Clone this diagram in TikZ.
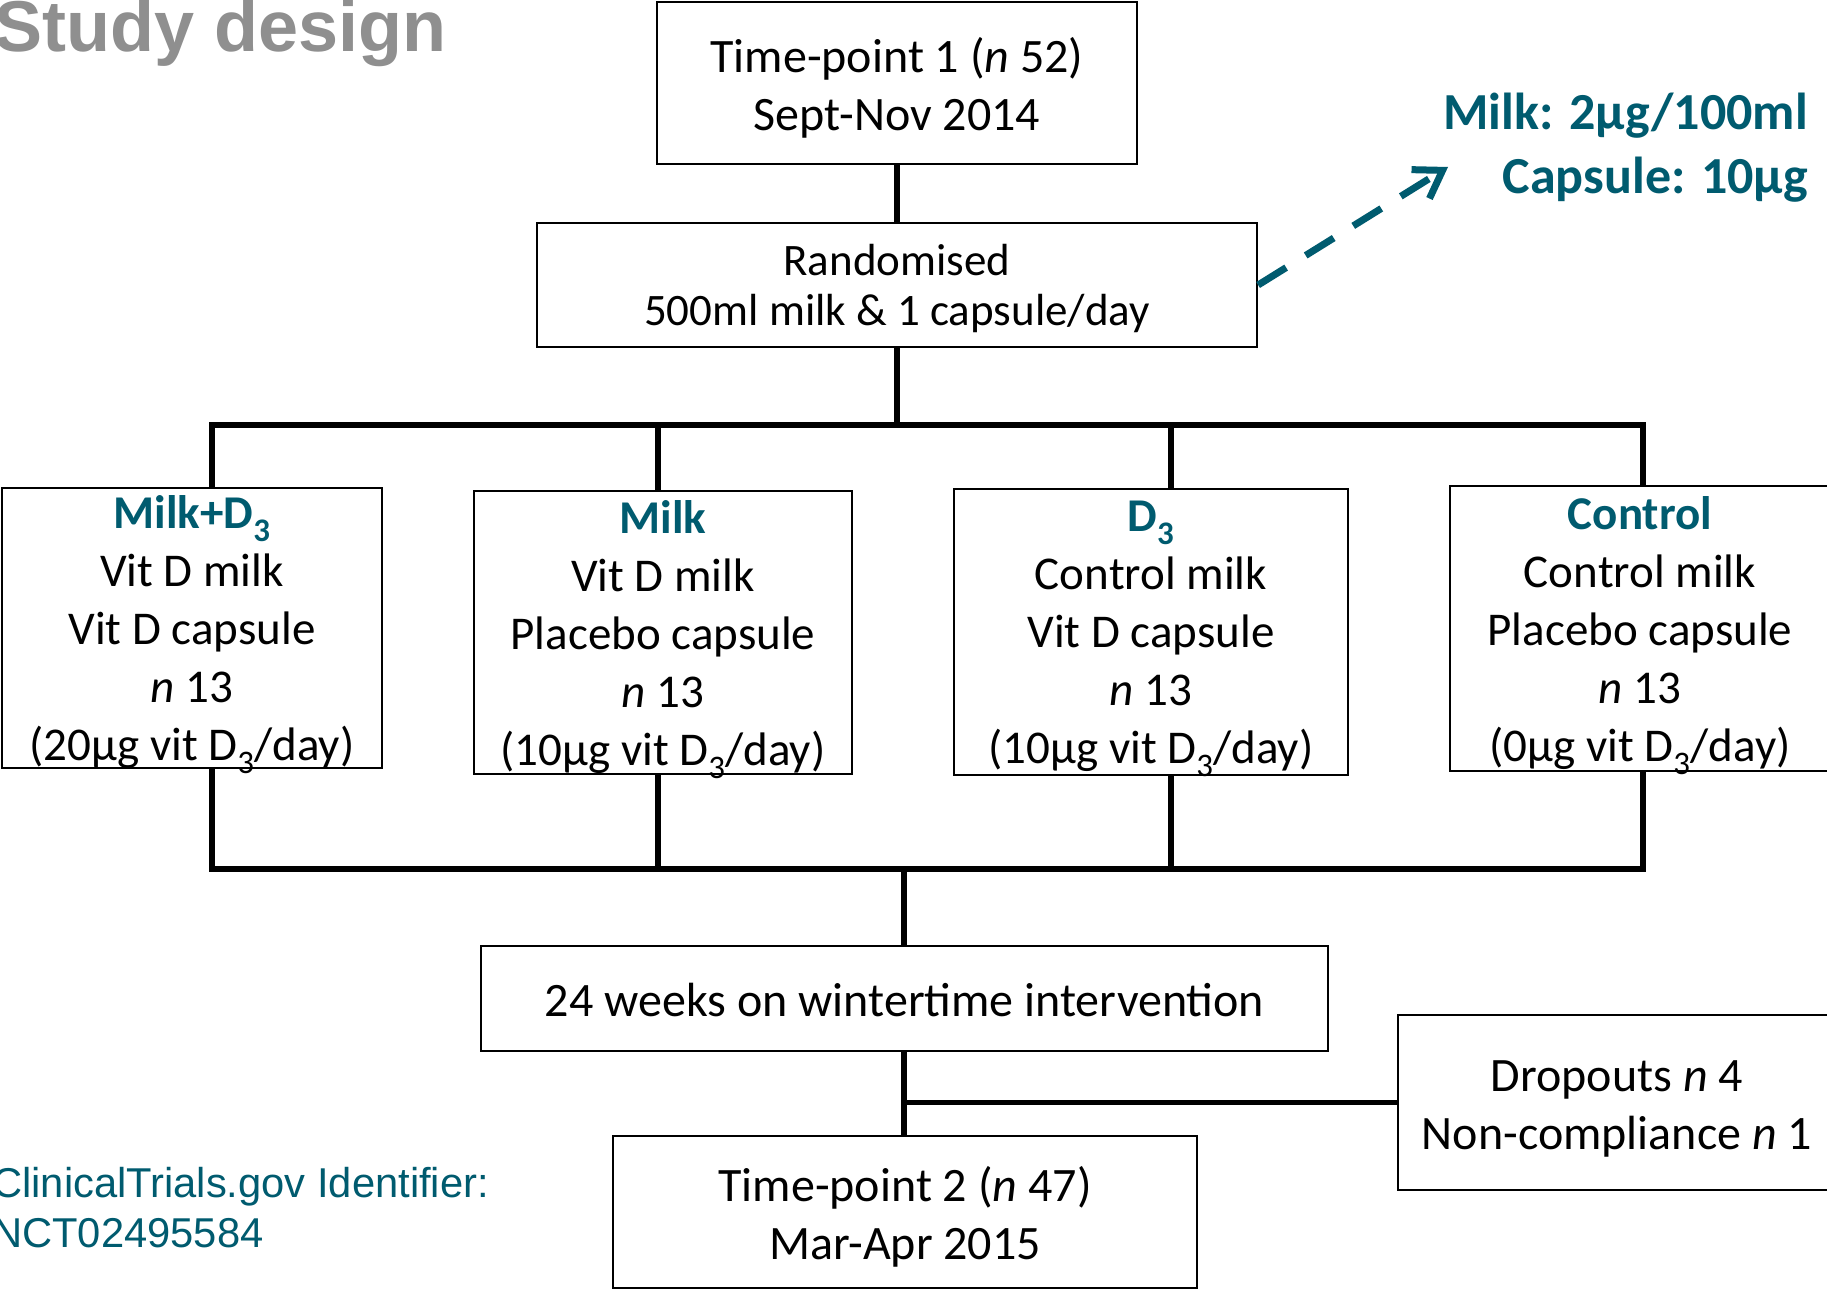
\documentclass[tikz,border=0pt]{standalone}
\usepackage{fontspec}
\setmainfont{Carlito}
\newfontfamily\arialfont{Liberation Sans}
\usetikzlibrary{arrows.meta}
\definecolor{teal1}{RGB}{0,91,111}
\definecolor{titlegray}{RGB}{143,143,143}
\begin{document}
\begin{tikzpicture}[x=1pt,y=-1pt,
  box/.style={draw=black, line width=2.2pt, inner sep=0pt, fill=white},
  tl/.style={inner sep=0pt, align=center},
  conn/.style={draw=black, line width=5.5pt, line cap=rect},
  bigtxt/.style={font=\fontsize{48}{58}\selectfont},
  randtxt/.style={font=\fontsize{45}{50}\selectfont},
  grptxt/.style={font=\fontsize{47}{58}\selectfont}]
\useasboundingbox (0,0) rectangle (1827,1289);
\fill[white] (0,0) rectangle (1827,1289);

% title and notes
\node[anchor=base west, inner sep=0pt, text=titlegray, font=\arialfont\bfseries\fontsize{72}{80}\selectfont] (title) at (-6,52) {Study design};
\node[anchor=west, inner sep=0pt, align=left, text=teal1, font=\arialfont\fontsize{41.7}{50}\selectfont] (ct) at (-8,1208) {ClinicalTrials.gov Identifier:\\NCT02495584};
\node[anchor=east, inner sep=0pt, align=right, text=teal1, font=\bfseries\fontsize{52}{64}\selectfont] (dose) at (1808,148) {Milk: 2µg/100ml\\Capsule: 10µg};

% connector coordinates
\coordinate (s1) at (212,425);
\coordinate (s2) at (658,425);
\coordinate (s3) at (1171,425);
\coordinate (s4) at (1643,425);
\coordinate (b1) at (212,869);
\coordinate (b2) at (658,869);
\coordinate (b3) at (1171,869);
\coordinate (b4) at (1643,869);
\coordinate (bc) at (904,869);
\coordinate (arrowtip) at (1448,167);

% boxes
\node[box, minimum width=480, minimum height=162,
  label={[tl, bigtxt, yshift=-5pt]center:{Time-point 1 (\textit{n} 52)\\Sept-Nov 2014}}] (tp1) at (897,83) {};
\node[box, minimum width=720, minimum height=124,
  label={[tl, randtxt, yshift=-3.5pt]center:{Randomised\\500ml milk \& 1 capsule/day}}] (rand) at (897,285) {};

\node[box, minimum width=380, minimum height=280,
  label={[tl, grptxt, yshift=-7pt]center:{\textcolor{teal1}{\bfseries Milk+D\textsubscript{3}}\\Vit D milk\\Vit D capsule\\\textit{n} 13\\(20µg vit D\textsubscript{3}/day)}}] (g1) at (192,628) {};
\node[box, minimum width=378, minimum height=283,
  label={[tl, grptxt, yshift=-7pt]center:{\textcolor{teal1}{\bfseries Milk}\\Vit D milk\\Placebo capsule\\\textit{n} 13\\(10µg vit D\textsubscript{3}/day)}}] (g2) at (663,632.5) {};
\node[box, minimum width=394, minimum height=286,
  label={[tl, grptxt, yshift=-7pt]center:{\textcolor{teal1}{\bfseries D\textsubscript{3}}\\Control milk\\Vit D capsule\\\textit{n} 13\\(10µg vit D\textsubscript{3}/day)}}] (g3) at (1151,632) {};
\node[box, minimum width=380, minimum height=285,
  label={[tl, grptxt, yshift=-7pt]center:{\textcolor{teal1}{\bfseries Control}\\Control milk\\Placebo capsule\\\textit{n} 13\\(0µg vit D\textsubscript{3}/day)}}] (g4) at (1640,628.5) {};

\node[box, minimum width=847, minimum height=105,
  label={[tl, bigtxt, yshift=-1.5pt]center:{24 weeks on wintertime intervention}}] (weeks) at (904.5,998.5) {};
\node[box, minimum width=584, minimum height=152,
  label={[tl, bigtxt, yshift=-5pt]center:{Time-point 2 (\textit{n} 47)\\Mar-Apr 2015}}] (tp2) at (905,1212) {};
\node[box, minimum width=438, minimum height=175,
  label={[tl, bigtxt, yshift=-6pt]center:{Dropouts \textit{n} 4\\Non-compliance \textit{n} 1}}] (drop) at (1617,1102.5) {};

% connectors
\draw[conn, line cap=butt] (tp1.south) -- (rand.north);
\draw[conn, line cap=butt] (rand.south) -- ([yshift=-3pt]rand.south |- s1);
\draw[conn] (s1) -- (s4);
\draw[conn, line cap=butt] (s1) -- (s1 |- g1.north);
\draw[conn, line cap=butt] (s2) -- (s2 |- g2.north);
\draw[conn, line cap=butt] (s3) -- (s3 |- g3.north);
\draw[conn, line cap=butt] (s4) -- (s4 |- g4.north);
\draw[conn, line cap=butt] (b1 |- g1.south) -- (b1);
\draw[conn, line cap=butt] (b2 |- g2.south) -- (b2);
\draw[conn, line cap=butt] (b3 |- g3.south) -- (b3);
\draw[conn, line cap=butt] (b4 |- g4.south) -- (b4);
\draw[conn] (b1) -- (b4);
\draw[conn, line cap=butt] (bc) -- (bc |- weeks.north);
\draw[conn, line cap=butt] (bc |- weeks.south) -- (bc |- tp2.north);
\draw[conn, line cap=butt] (bc |- drop.west) -- (drop.west);

% dashed arrow
\draw[draw=teal1, line width=7pt, dash pattern=on 33pt off 23pt, -{Straight Barb[length=26pt,width=34pt]}] (rand.east) -- (arrowtip);
\end{tikzpicture}
\end{document}
